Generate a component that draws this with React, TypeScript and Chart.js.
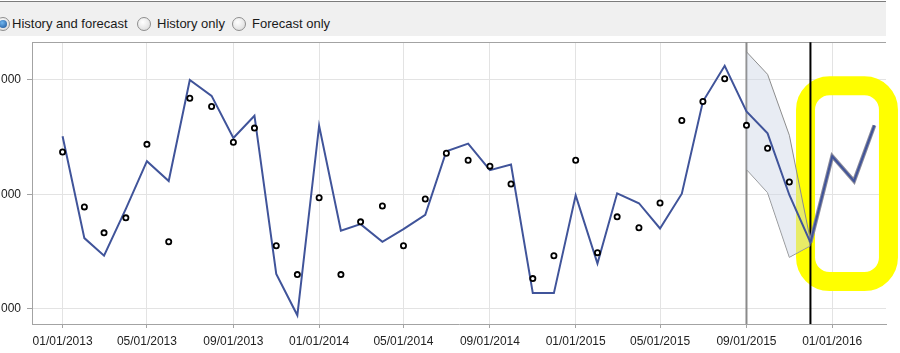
import React, { useEffect, useRef } from "react";
import { Chart, registerables } from "chart.js";
Chart.register(...registerables);

const months = [
  "01/01/2013","02/01/2013","03/01/2013","04/01/2013","05/01/2013","06/01/2013",
  "07/01/2013","08/01/2013","09/01/2013","10/01/2013","11/01/2013","12/01/2013",
  "01/01/2014","02/01/2014","03/01/2014","04/01/2014","05/01/2014","06/01/2014",
  "07/01/2014","08/01/2014","09/01/2014","10/01/2014","11/01/2014","12/01/2014",
  "01/01/2015","02/01/2015","03/01/2015","04/01/2015","05/01/2015","06/01/2015",
  "07/01/2015","08/01/2015","09/01/2015","10/01/2015","11/01/2015","12/01/2015",
  "01/01/2016","02/01/2016","03/01/2016",
];

const fitted = [
  2507, 1617, 1463, 1872, 2290, 2116, 3000, 2861, 2492, 2687, 1304, 942,
  2600, 1681, 1739, 1585, 1696, 1820, 2377, 2443, 2211, 2261, 1136, 1136,
  1991, 1394, 2009, 1922, 1701, 2005, 2811, 3124, 2724, 2533, 1994, 1579,
  2333, 2116, 2603,
];

const actual = [
  2370, 1890, 1663, 1794, 2437, 1585, 2840, 2768, 2455, 2579, 1550, 1298,
  1970, 1298, 1759, 1898, 1550, 1959, 2359, 2298, 2246, 2090, 1263, 1463,
  2298, 1490, 1803, 1707, 1924, 2646, 2811, 3011, 2603, 2403, 2107,
];

const bandMonths = ["09/01/2015", "10/01/2015", "11/01/2015", "12/01/2015"];
const bandUpper = [3246, 3049, 2516, 1595];
const bandLower = [2217, 2014, 1449, 1550];

const forecastMonths = ["12/01/2015", "01/01/2016", "02/01/2016", "03/01/2016"];

const historyEnd = "09/01/2015";
const forecastStart = "12/01/2015";

const xTickLabels = [
  "01/01/2013","05/01/2013","09/01/2013","01/01/2014","05/01/2014",
  "09/01/2014","01/01/2015","05/01/2015","09/01/2015","01/01/2016",
];
const yTicks = [1000, 2000, 3000];

// highlight annotation (data space)
const highlightFrom = "11/24/2015";
const highlightTo = "03/21/2016";
const highlightTop = 2950;
const highlightBottom = 1237;

const DAY = 86400000;
const parse = (s: string) => {
  const [m, d, y] = s.split("/").map(Number);
  return Date.UTC(y, m - 1, d);
};
const pad2 = (n: number) => (n < 10 ? "0" + n : "" + n);
const fmt = (t: number) => {
  const d = new Date(t);
  return pad2(d.getUTCMonth() + 1) + "/" + pad2(d.getUTCDate()) + "/" + d.getUTCFullYear();
};

const X_MIN = parse("01/01/2013") - 43.5 * DAY;
const X_MAX = X_MIN + 1215 * DAY;

const overlay = {
  id: "overlay",
  beforeDatasetsDraw(chart: any) {
    const { ctx, chartArea: a, scales } = chart;
    const x = scales.x, y = scales.y;
    ctx.save();
    // top border
    ctx.strokeStyle = "#a3a3a3";
    ctx.lineWidth = 1;
    ctx.beginPath();
    ctx.moveTo(a.left, Math.round(a.top) + 0.5);
    ctx.lineTo(a.right, Math.round(a.top) + 0.5);
    ctx.stroke();
    // yellow highlight
    const l = x.getPixelForValue(parse(highlightFrom));
    const r = x.getPixelForValue(parse(highlightTo));
    const t = y.getPixelForValue(highlightTop);
    const b = y.getPixelForValue(highlightBottom);
    ctx.strokeStyle = "#ffff00";
    ctx.lineWidth = 19;
    ctx.lineJoin = "round";
    ctx.beginPath();
    (ctx as any).roundRect(l, t, r - l, b - t, 24);
    ctx.stroke();
    // vertical markers
    const gx = x.getPixelForValue(parse(historyEnd));
    ctx.strokeStyle = "#8a8a8a";
    ctx.lineWidth = 2;
    ctx.beginPath();
    ctx.moveTo(gx, a.top);
    ctx.lineTo(gx, a.bottom);
    ctx.stroke();
    const bx = x.getPixelForValue(parse(forecastStart));
    ctx.strokeStyle = "#000000";
    ctx.lineWidth = 2;
    ctx.beginPath();
    ctx.moveTo(bx, a.top);
    ctx.lineTo(bx, a.bottom);
    ctx.stroke();
    ctx.restore();
  },
};

const Radio = ({ left, checked }: { left: number; checked?: boolean }) => (
  <div
    style={{
      position: "absolute",
      left,
      top: 17,
      width: 14,
      height: 14,
      borderRadius: "50%",
      border: "1px solid #8e8e8e",
      boxSizing: "border-box",
      background: "radial-gradient(circle at 40% 35%, #ffffff, #d6d6d6)",
    }}
  >
    {checked && (
      <div
        style={{
          position: "absolute",
          left: 2,
          top: 2,
          width: 8,
          height: 8,
          borderRadius: "50%",
          background: "radial-gradient(circle at 40% 35%, #6fb6f0, #1a4f93)",
        }}
      />
    )}
  </div>
);

const Label = ({ left, text }: { left: number; text: string }) => (
  <div
    style={{
      position: "absolute",
      left,
      top: 16,
      fontFamily: "'Liberation Sans', Arial, sans-serif",
      fontSize: 13,
      color: "#1a1a1a",
      whiteSpace: "nowrap",
    }}
  >
    {text}
  </div>
);

export default function App() {
  const ref = useRef<HTMLCanvasElement>(null);
  useEffect(() => {
    if (!ref.current) return;
    const fittedPts = months.map((m, i) => ({ x: parse(m), y: fitted[i] }));
    const actualPts = actual.map((v, i) => ({ x: parse(months[i]), y: v }));
    const upperPts = bandMonths.map((m, i) => ({ x: parse(m), y: bandUpper[i] }));
    const lowerPts = bandMonths.map((m, i) => ({ x: parse(m), y: bandLower[i] }));
    const fcPts = forecastMonths.map((m) => ({ x: parse(m), y: fitted[months.indexOf(m)] }));
    const font = { family: "'Liberation Sans', Arial, sans-serif", size: 12 };
    const chart = new Chart(ref.current, {
      type: "line",
      data: {
        datasets: [
          {
            label: "Upper",
            data: upperPts,
            borderColor: "#8c8c8c",
            borderWidth: 1,
            pointRadius: 0,
            fill: "+1",
            backgroundColor: "rgba(205,212,228,0.45)",
            order: 6,
          },
          {
            label: "Lower",
            data: lowerPts,
            borderColor: "#8c8c8c",
            borderWidth: 1,
            pointRadius: 0,
            fill: false,
            order: 6,
          },
          {
            label: "Forecast shadow",
            data: fcPts,
            borderColor: "#8a8a9a",
            borderWidth: 4,
            pointRadius: 0,
            fill: false,
            order: 4,
          },
          {
            label: "Fitted",
            data: fittedPts,
            borderColor: "#40549a",
            borderWidth: 2,
            pointRadius: 0,
            fill: false,
            order: 2,
          },
          {
            label: "Actual",
            data: actualPts,
            showLine: false,
            pointRadius: 2.6,
            pointBorderWidth: 1.8,
            pointBorderColor: "#000000",
            pointBackgroundColor: "#ffffff",
            order: 1,
          },
        ],
      },
      options: {
        responsive: false,
        animation: false,
        events: [],
        layout: { padding: { left: 0, right: 14, top: 0, bottom: 0 } },
        plugins: { legend: { display: false }, tooltip: { enabled: false } },
        scales: {
          x: {
            type: "linear",
            min: X_MIN,
            max: X_MAX,
            afterBuildTicks: (s: any) => {
              s.ticks = xTickLabels.map((l) => ({ value: parse(l) }));
            },
            afterFit: (s: any) => {
              s.height = 29;
            },
            ticks: {
              autoSkip: false,
              maxRotation: 0,
              padding: 6,
              color: "#222222",
              font,
              callback: (v: any) => fmt(Number(v)),
            },
            grid: { color: "#e3e3e3", tickColor: "#a3a3a3", tickLength: 4 },
            border: { color: "#a3a3a3", width: 1 },
          },
          y: {
            type: "linear",
            min: 866,
            max: 3330,
            afterBuildTicks: (s: any) => {
              s.ticks = yTicks.map((v) => ({ value: v }));
            },
            afterFit: (s: any) => {
              s.width = 52;
            },
            ticks: {
              padding: 6,
              color: "#222222",
              font,
              callback: (v: any) => Number(v).toLocaleString("en-US"),
            },
            grid: { color: "#e3e3e3", tickColor: "#a3a3a3", tickLength: 5 },
            border: { color: "#a3a3a3", width: 1 },
          },
        },
      },
      plugins: [overlay],
    } as any);
    return () => chart.destroy();
  }, []);

  return (
    <div
      style={{
        position: "fixed",
        left: 0,
        top: 0,
        width: 900,
        height: 353,
        overflow: "hidden",
        background: "#ffffff",
      }}
    >
      <canvas
        ref={ref}
        width={920}
        height={324}
        style={{ position: "absolute", left: -20, top: 29, width: 920, height: 324 }}
      />
      <div
        style={{
          position: "absolute",
          left: 0,
          top: 1,
          width: 886,
          height: 35,
          background: "#f0f0f0",
          borderTop: "1px solid #7c7c7c",
          boxSizing: "border-box",
        }}
      />
      <Radio left={-4} checked />
      <Label left={12} text="History and forecast" />
      <Radio left={137} />
      <Label left={157} text="History only" />
      <Radio left={232} />
      <Label left={252} text="Forecast only" />
    </div>
  );
}
